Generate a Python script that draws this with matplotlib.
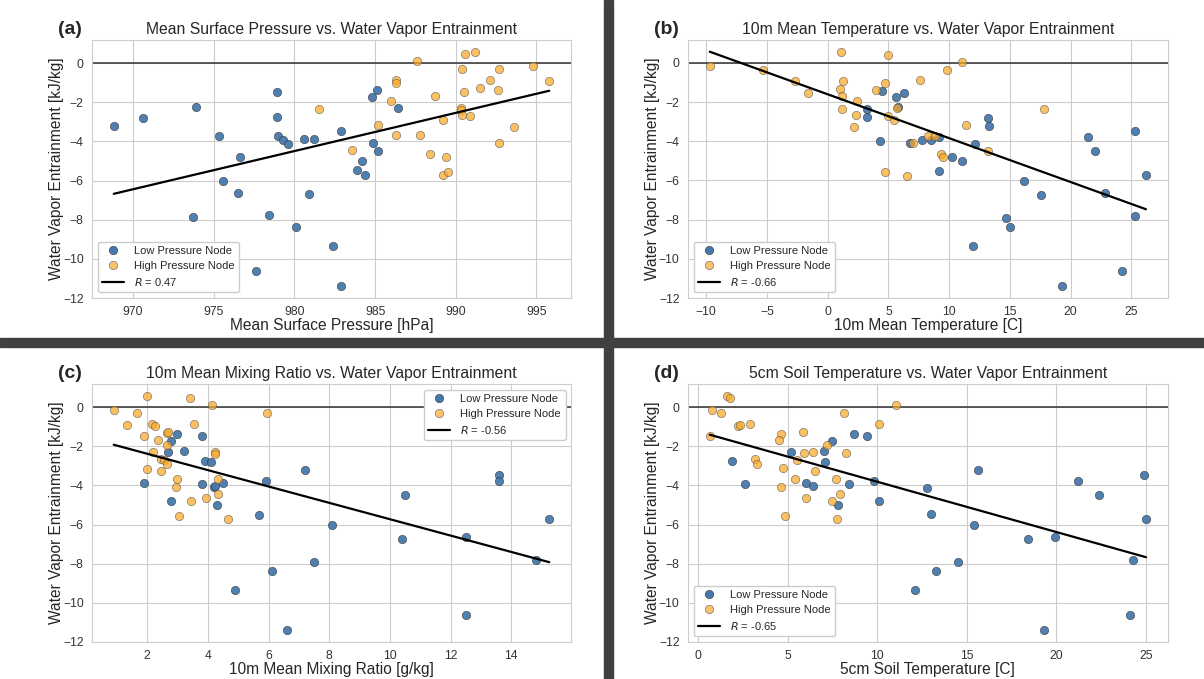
import matplotlib.pyplot as plt
import numpy as np
import seaborn as sns
from matplotlib.lines import Line2D
from matplotlib.patches import Rectangle

# Mean surface pressure [hPa] vs entrainment [kJ/kg]
pres_low = [968.8, 970.6, 973.9, 973.7, 975.3, 975.6, 976.6, 976.5, 978.4, 977.6,
            978.9, 978.9, 979.0, 979.3, 979.6, 980.1, 980.6, 980.9, 981.2, 982.4,
            982.9, 982.9, 984.8, 985.1, 986.4, 984.9, 985.2, 984.2, 983.9, 984.4]
ent_pres_low = [-3.19, -2.80, -2.24, -7.88, -3.75, -6.01, -4.79, -6.62, -7.78, -10.61,
                -1.49, -2.75, -3.75, -3.92, -4.13, -8.37, -3.87, -6.71, -3.90, -9.34,
                -3.45, -11.37, -1.73, -1.39, -2.31, -4.06, -4.48, -4.99, -5.48, -5.70]
pres_high = [981.5, 983.6, 985.2, 986.0, 986.3, 986.3, 986.3, 987.6, 987.8, 988.7,
             988.4, 989.2, 989.4, 989.2, 989.5, 990.3, 990.3, 990.4, 990.9, 990.4,
             990.6, 991.2, 990.5, 991.5, 992.1, 992.6, 992.7, 992.7, 993.6, 994.8, 995.8]
ent_pres_high = [-2.34, -4.45, -3.14, -1.94, -0.88, -1.00, -3.68, 0.10, -3.65, -1.66,
                 -4.65, -2.89, -4.79, -5.72, -5.55, -2.28, -2.38, -2.63, -2.68, -0.32,
                 0.46, 0.58, -1.49, -1.29, -0.85, -1.36, -0.32, -4.07, -3.26, -0.14, -0.90]

# 10m mean temperature [C]
temp_low = [4.5, 5.6, 6.3, 5.8, 3.2, 3.2, 4.3, 6.8, 7.8, 8.5,
            9.2, 9.2, 10.2, 11.1, 12.1, 13.2, 13.3, 12.0, 14.7, 15.0,
            16.2, 17.6, 19.3, 21.4, 22.0, 22.8, 24.2, 25.3, 25.3, 26.2]
ent_temp_low = [-1.41, -1.75, -1.51, -2.26, -2.33, -2.77, -3.96, -4.08, -3.91, -3.91,
                -3.80, -5.49, -4.80, -5.02, -4.13, -2.82, -3.23, -9.37, -7.91, -8.40,
                -6.04, -6.73, -11.39, -3.78, -4.51, -6.65, -10.63, -3.49, -7.79, -5.71]
temp_high = [-9.7, -5.3, -2.7, -1.6, 1.1, 1.3, 1.0, 1.2, 1.2, 2.4,
             2.3, 2.2, 4.0, 4.7, 5.0, 5.0, 5.5, 5.7, 7.6, 7.0,
             8.3, 8.8, 4.7, 6.5, 9.3, 9.8, 11.1, 17.8, 11.4, 13.2, 9.5]
ent_temp_high = [-0.17, -0.34, -0.94, -1.53, 0.56, -0.90, -1.33, -1.70, -2.33, -1.96,
                 -2.65, -3.28, -1.38, -1.02, 0.43, -2.72, -2.93, -2.28, -0.88, -4.10,
                 -3.71, -3.71, -5.56, -5.75, -4.66, -0.34, 0.07, -2.36, -3.16, -4.47, -4.80]

# 10m mean mixing ratio [g/kg]
mix_low = [1.9, 3.0, 2.8, 2.7, 3.2, 3.8, 3.9, 4.1, 3.8, 4.2,
           4.25, 4.5, 2.8, 4.3, 5.7, 5.9, 6.1, 4.9, 6.6, 7.2,
           7.5, 8.1, 10.4, 10.5, 12.5, 12.5, 13.6, 13.6, 14.8, 15.25]
ent_mix_low = [-3.86, -1.38, -1.74, -2.31, -2.23, -1.50, -2.76, -2.79, -3.93, -4.10,
               -4.05, -3.90, -4.78, -5.00, -5.50, -3.76, -8.39, -9.36, -11.40, -3.20,
               -7.90, -6.03, -6.72, -4.49, -6.66, -10.64, -3.47, -3.76, -7.80, -5.72]
mix_high = [0.9, 1.65, 2.0, 3.4, 4.15, 5.95, 1.35, 2.15, 2.25, 3.55,
            1.9, 2.35, 2.65, 2.7, 2.65, 2.2, 2.45, 2.55, 2.65, 2.0,
            2.45, 4.25, 4.35, 3.0, 2.95, 3.45, 3.95, 4.35, 3.05, 4.65, 4.22]
ent_mix_high = [-0.14, -0.32, 0.58, 0.46, 0.09, -0.31, -0.92, -0.87, -0.99, -0.87,
                -1.50, -1.67, -1.34, -1.29, -1.94, -2.31, -2.64, -2.69, -2.89, -3.15,
                -3.27, -2.31, -3.68, -3.66, -4.09, -4.78, -4.65, -4.46, -5.55, -5.74, -2.38]

# 5cm soil temperature [C]
soil_low = [1.9, 2.6, 5.2, 6.0, 6.4, 7.0, 7.45, 7.1, 7.8, 8.7,
            9.4, 8.4, 9.8, 10.1, 12.1, 12.8, 13.0, 13.3, 14.5, 15.4,
            15.6, 18.4, 19.3, 19.9, 21.2, 22.4, 24.1, 24.25, 24.9, 25.0]
ent_soil_low = [-2.76, -3.93, -2.31, -3.86, -4.05, -2.23, -1.74, -2.79, -4.99, -1.38,
                -1.50, -3.91, -3.78, -4.78, -9.36, -4.12, -5.48, -8.39, -7.90, -6.02,
                -3.20, -6.72, -11.40, -6.66, -3.76, -4.51, -10.64, -7.80, -3.47, -5.72]
soil_high = [1.6, 1.8, 0.8, 1.3, 0.65, 2.2, 2.35, 2.9, 4.6, 4.5,
             3.2, 3.3, 5.85, 5.5, 5.9, 6.4, 7.2, 8.15, 8.25, 11.05,
             10.1, 4.75, 4.6, 5.4, 6.5, 6.0, 7.7, 7.45, 7.9, 4.85, 7.75]
ent_soil_high = [0.58, 0.46, -0.14, -0.31, -1.50, -0.99, -0.92, -0.89, -1.36, -1.69,
                 -2.64, -2.91, -1.29, -2.69, -2.33, -2.30, -1.92, -0.31, -2.33, 0.10,
                 -0.87, -3.13, -4.07, -3.66, -3.27, -4.65, -3.69, -4.80, -4.46, -5.55, -5.74]

titles = ['Mean Surface Pressure vs. Water Vapor Entrainment',
          '10m Mean Temperature vs. Water Vapor Entrainment',
          '10m Mean Mixing Ratio vs. Water Vapor Entrainment',
          '5cm Soil Temperature vs. Water Vapor Entrainment']
xlabels = ['Mean Surface Pressure [hPa]', '10m Mean Temperature [C]',
           '10m Mean Mixing Ratio [g/kg]', '5cm Soil Temperature [C]']
panel_tags = ['(a)', '(b)', '(c)', '(d)']
r_values = [0.47, -0.66, -0.56, -0.65]
legend_locs = ['lower left', 'lower left', 'upper right', 'lower left']

panels = [
    (pres_low, ent_pres_low, pres_high, ent_pres_high),
    (temp_low, ent_temp_low, temp_high, ent_temp_high),
    (mix_low, ent_mix_low, mix_high, ent_mix_high),
    (soil_low, ent_soil_low, soil_high, ent_soil_high),
]

sns.set_style('whitegrid')
plt.rcParams['font.family'] = ['Liberation Sans', 'DejaVu Sans']

low_color = '#4679ab'
high_color = '#f9a825'

fig = plt.figure(figsize=(12.04, 6.79), dpi=100)

# axes boxes [left, bottom, width, height]
boxes = [
    [0.0764, 0.5611, 0.3979, 0.3800],
    [0.5714, 0.5611, 0.3985, 0.3800],
    [0.0764, 0.0545, 0.3979, 0.3800],
    [0.5714, 0.0545, 0.3985, 0.3800],
]

for i, (xl, yl, xh, yh) in enumerate(panels):
    ax = fig.add_axes(boxes[i])
    ax.scatter(xl, yl, s=36, color=low_color, alpha=0.95,
               edgecolor='#333333', linewidth=0.4, zorder=3)
    ax.scatter(xh, yh, s=36, color=high_color, alpha=0.72,
               edgecolor='#555555', linewidth=0.5, zorder=3)
    ax.axhline(0, color='#333333', lw=1.1, zorder=2)

    # least squares fit over both nodes
    x_all = np.array(xl + xh)
    y_all = np.array(yl + yh)
    slope, icpt = np.polyfit(x_all, y_all, 1)
    xf = np.array([x_all.min(), x_all.max()])
    ax.plot(xf, slope * xf + icpt, color='black', lw=1.6, zorder=4)

    ax.set_title(titles[i], fontsize=11.3, pad=4)
    ax.set_xlabel(xlabels[i], fontsize=11.2, labelpad=0)
    ax.set_ylabel('Water Vapor Entrainment [kJ/kg]', fontsize=11.2, labelpad=-1)
    ax.tick_params(labelsize=8.7, colors='#333333', pad=2.5)
    ax.set_yticks([0, -2, -4, -6, -8, -10, -12])

    handles = [
        Line2D([], [], ls='', marker='o', ms=6, mfc=low_color, mec='#333333', mew=0.4),
        Line2D([], [], ls='', marker='o', ms=6, mfc='#fbc36a', mec='#777777', mew=0.5),
        Line2D([], [], color='black', lw=1.6),
    ]
    labels = ['Low Pressure Node', 'High Pressure Node', '$R$ = %.2f' % r_values[i]]
    ax.legend(handles, labels, loc=legend_locs[i], fontsize=8, frameon=True,
              framealpha=1, edgecolor='#cccccc', fancybox=True,
              labelspacing=0.45, handlelength=2.0, handletextpad=0.9)

    b = boxes[i]
    fig.text(b[0] - 0.018, b[1] + b[3] + 0.016, panel_tags[i],
             fontsize=14, fontweight='bold', ha='center', va='center')

# dark dividers between the four panels
fig.add_artist(Rectangle((0.5017, 0), 0.0075, 1, transform=fig.transFigure,
                         color='#404040', zorder=10))
fig.add_artist(Rectangle((0, 0.4889), 1, 0.0133, transform=fig.transFigure,
                         color='#404040', zorder=10))

fig.savefig('out.png', dpi=100)
